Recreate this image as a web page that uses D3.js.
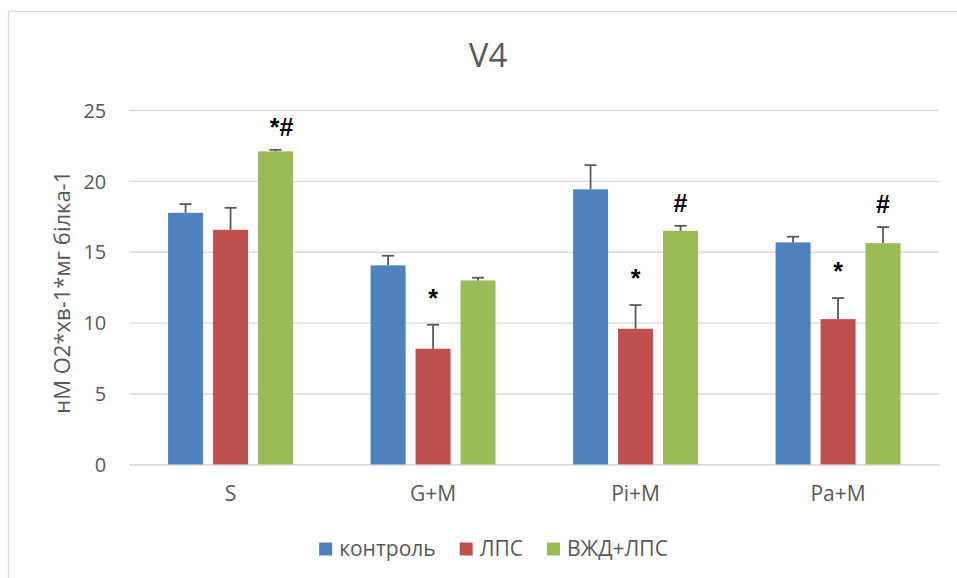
<!DOCTYPE html>
<html>
<head>
<meta charset="utf-8">
<script src="https://cdn.jsdelivr.net/npm/d3@7"></script>
<style>
  html, body { margin: 0; padding: 0; background: #fff; }
  svg { display: block; }
  text { font-family: "Open Sans", sans-serif; }
</style>
</head>
<body>
<svg id="chart" width="957" height="578"></svg>
<script>
// Categories and series (V4 respiration rate)
const categories = ["S", "G+M", "Pi+M", "Pa+M"];
const seriesNames = ["контроль", "ЛПС", "ВЖД+ЛПС"];
const seriesColors = ["#4F81BD", "#C0504D", "#9BBB59"];

const controlValues = [17.75, 14.04, 19.40, 15.66];
const lpsValues     = [16.55, 8.16, 9.57, 10.25];
const vzhdValues    = [22.08, 12.98, 16.48, 15.61];

const controlErrors = [0.61, 0.68, 1.71, 0.40];
const lpsErrors     = [1.55, 1.69, 1.67, 1.48];
const vzhdErrors    = [0.11, 0.19, 0.35, 1.13];

// Significance marks above each bar
const controlMarks = ["", "", "", ""];
const lpsMarks     = ["", "*", "*", "*"];
const vzhdMarks    = ["*#", "", "#", "#"];

const yTicks = [0, 5, 10, 15, 20, 25];

const seriesValues = [controlValues, lpsValues, vzhdValues];
const seriesErrors = [controlErrors, lpsErrors, vzhdErrors];
const seriesMarks = [controlMarks, lpsMarks, vzhdMarks];

const rows = [];
categories.forEach((c, ci) => {
  seriesNames.forEach((s, si) => {
    rows.push({
      category: c, series: s, si,
      value: seriesValues[si][ci],
      err: seriesErrors[si][ci],
      mark: seriesMarks[si][ci]
    });
  });
});

const svg = d3.select("#chart");

// Chart area frame
svg.append("rect")
  .attr("x", 8.5).attr("y", 11.5)
  .attr("width", 980).attr("height", 600)
  .attr("fill", "#fff").attr("stroke", "#D9D9D9").attr("stroke-width", 1.3);

const plot = { left: 129.3, right: 939.3, top: 110, bottom: 464.4 };

const x = d3.scaleBand().domain(categories).range([plot.left, plot.right]).paddingInner(0).paddingOuter(0);
const groupWidth = x.bandwidth() * 0.617;
const xs = d3.scaleBand().domain(seriesNames).range([0, groupWidth]).paddingInner(0.222).paddingOuter(0);
const y = d3.scaleLinear().domain([0, 25]).range([plot.bottom, plot.top]);

// Horizontal gridlines and value labels
const yAxis = d3.axisLeft(y).tickValues(yTicks).tickSize(-(plot.right - plot.left)).tickPadding(23);
const gy = svg.append("g").attr("transform", `translate(${plot.left},0)`).call(yAxis);
gy.select(".domain").remove();
gy.selectAll(".tick line").attr("stroke", "#D9D9D9").attr("stroke-width", 1.4);
gy.selectAll(".tick text")
  .attr("fill", "#595959").style("font-size", "20px").attr("dy", "0.36em")
  .style("font-family", "'Open Sans', sans-serif");

// Category axis labels
const xAxis = d3.axisBottom(x).tickSize(0).tickPadding(22);
const gx = svg.append("g").attr("transform", `translate(0,${plot.bottom})`).call(xAxis);
gx.select(".domain").attr("stroke", "#D9D9D9").attr("stroke-width", 1.4);
gx.selectAll(".tick text")
  .attr("fill", "#595959").style("font-size", "21px")
  .style("font-family", "'Open Sans', sans-serif");

// Bars
const groupOffset = (x.bandwidth() - groupWidth) / 2;
const bx = d => x(d.category) + groupOffset + xs(d.series);

svg.append("g").selectAll("rect")
  .data(rows).join("rect")
  .attr("x", bx)
  .attr("y", d => y(d.value))
  .attr("width", xs.bandwidth())
  .attr("height", d => y(0) - y(d.value))
  .attr("fill", d => seriesColors[d.si]);

// Error bars (upper half only)
const eg = svg.append("g").attr("stroke", "#595959").attr("stroke-width", 1.8);
eg.selectAll("line.v").data(rows).join("line").attr("class", "v")
  .attr("x1", d => bx(d) + xs.bandwidth() / 2)
  .attr("x2", d => bx(d) + xs.bandwidth() / 2)
  .attr("y1", d => y(d.value))
  .attr("y2", d => y(d.value + d.err));
eg.selectAll("line.c").data(rows).join("line").attr("class", "c")
  .attr("x1", d => bx(d) + xs.bandwidth() / 2 - 6)
  .attr("x2", d => bx(d) + xs.bandwidth() / 2 + 6)
  .attr("y1", d => y(d.value + d.err))
  .attr("y2", d => y(d.value + d.err));

// Significance marks
svg.append("g").selectAll("text")
  .data(rows.filter(d => d.mark)).join("text")
  .attr("x", d => bx(d) + xs.bandwidth() / 2 + (d.mark.length > 1 ? 6 : 0))
  .attr("y", d => y(d.value + d.err) - (d.mark === "*" ? 18 : 14))
  .attr("text-anchor", "middle")
  .style("font-family", "'Liberation Sans', Arial, sans-serif")
  .style("font-weight", "bold")
  .style("font-size", "25px")
  .attr("fill", "#000")
  .text(d => d.mark);

// Title
svg.append("text")
  .attr("x", 488).attr("y", 67)
  .attr("text-anchor", "middle")
  .attr("fill", "#595959")
  .style("font-size", "33px")
  .text("V4");

// Y axis title
svg.append("text")
  .attr("transform", `translate(70,${(plot.top + plot.bottom) / 2 + 5}) rotate(-90)`)
  .attr("text-anchor", "middle")
  .attr("fill", "#595959")
  .style("font-size", "22px")
  .text("нМ О2*хв-1*мг білка-1");

// Legend
const legend = svg.append("g");
let lx = 0;
seriesNames.forEach((name, i) => {
  const item = legend.append("g").attr("transform", `translate(${lx},0)`);
  item.append("rect").attr("x", 0).attr("y", -6.5).attr("width", 13).attr("height", 13)
    .attr("fill", seriesColors[i]);
  const t = item.append("text").attr("x", 20).attr("y", 0).attr("dy", "0.35em")
    .attr("fill", "#595959").style("font-size", "21px").text(name);
  lx += 20 + t.node().getComputedTextLength() + 24;
});
const legendWidth = lx - 24;
legend.attr("transform", `translate(${493.5 - legendWidth / 2},549)`);
</script>
</body>
</html>
